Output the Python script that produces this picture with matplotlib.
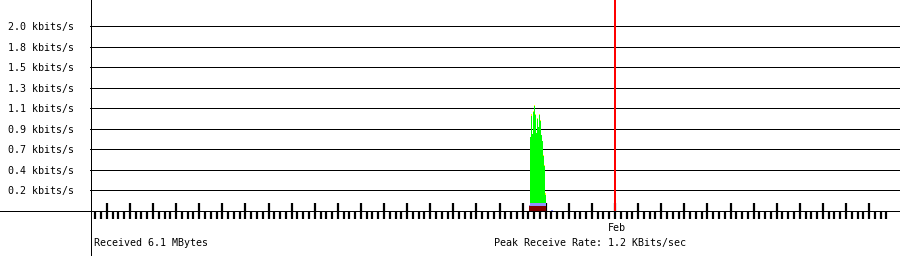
import numpy as np
import matplotlib
matplotlib.use('Agg')
import matplotlib.pyplot as plt
from matplotlib.lines import Line2D
import matplotlib.transforms as mtransforms

# hours relative to 1 Feb 00:00
hours = [-89, -88, -87, -86, -85, -84, -83, -82, -81, -80, -79, -78, -77, -76, -75, -74, -73, -72, -66]
# stacked layers, kbits/s
maroon = [0.05, 0.055, 0.055, 0.055, 0.055, 0.055, 0.055, 0.055, 0.055, 0.055, 0.055, 0.055, 0.055, 0.055, 0.055, 0.055, 0.055, 0.0, 0.0]
violet = [0.01, 0.03, 0.03, 0.03, 0.03, 0.03, 0.03, 0.03, 0.03, 0.03, 0.03, 0.03, 0.03, 0.03, 0.03, 0.03, 0.03, 0.0, 0.012]
green = [0.0, 0.71, 0.935, 0.74, 0.97, 1.036, 0.94, 0.75, 0.9, 0.81, 0.94, 0.88, 0.73, 0.66, 0.5, 0.4, 0.09, 0.0, 0.0]
yellow = [0.0, 0.0, 0.018, 0.0, 0.01, 0.01, 0.013, 0.0, 0.015, 0.004, 0.013, 0.014, 0.0, 0.004, 0.014, 0.007, 0.018, 0.0, 0.0]

ytick_vals = [0.22 * k for k in range(1, 10)]
ytick_labels = ['0.2 kbits/s', '0.4 kbits/s', '0.7 kbits/s', '0.9 kbits/s', '1.1 kbits/s',
                '1.3 kbits/s', '1.5 kbits/s', '1.8 kbits/s', '2.0 kbits/s']
month_mark = 0  # 1 Feb
month_label = 'Feb'
received_text = 'Received 6.1 MBytes'
peak_text = 'Peak Receive Rate: 1.2 KBits/sec'

plt.rcParams['font.family'] = 'DejaVu Sans Mono'
plt.rcParams['font.size'] = 7.2

W, H = 900, 256
fig = plt.figure(figsize=(W / 100, H / 100), dpi=100)
ax = fig.add_axes([90 / W, 45 / H, 810 / W, 211 / H])

x = np.array(hours)
m = np.array(maroon)
v = np.array(violet)
g = np.array(green)
yl = np.array(yellow)
# stacked bars, one per hour (a bit wider so neighbours touch)
bw = 1.1
ax.bar(x, m, width=bw, align='edge', color='#800000', linewidth=0, antialiased=False)
ax.bar(x, v, width=bw, align='edge', bottom=m, color='#9090ff', linewidth=0, antialiased=False)
ax.bar(x, g, width=bw, align='edge', bottom=m + v, color='#00ff00', linewidth=0, antialiased=False)
ax.bar(x, yl, width=bw, align='edge', bottom=m + v + g, color='#ffff00', linewidth=0, antialiased=False)

ax.axvline(month_mark, color='#ff0000', lw=1.44, zorder=2, antialiased=False)

ax.set_xlim(-545.5, 296.1)
ax.set_ylim(0, 2.258)

ax.set_yticks(ytick_vals)
ax.set_yticklabels(ytick_labels)
ax.tick_params(axis='y', length=0, pad=11.5)
ax.grid(True, axis='y', color='black', lw=0.72, antialiased=False)
ax.set_axisbelow(True)

ax.set_xticks(np.arange(-528, 283, 24))
ax.set_xticks([h for h in range(-540, 283, 6) if h % 24 != 0], minor=True)
ax.set_xticklabels([])
ax.tick_params(axis='x', which='major', direction='inout', length=11, width=1.6, color='black')
ax.tick_params(axis='x', which='minor', direction='out', length=5.5, width=1.6, color='black')

for s in ax.spines.values():
    s.set_visible(False)

# axis lines that run past the plot area
fig.add_artist(Line2D([0, 1], [45.5 / H, 45.5 / H], color='black', lw=0.72, antialiased=False))
fig.add_artist(Line2D([90.5 / W, 90.5 / W], [0, 1], color='black', lw=0.72, antialiased=False))

trans = mtransforms.blended_transform_factory(ax.transData, fig.transFigure)
ax.text(month_mark + 2, 1 - 228 / H, month_label, ha='center', va='center', transform=trans)
fig.text(94 / W, 1 - 243 / H, received_text, ha='left', va='center')
fig.text(494 / W, 1 - 243 / H, peak_text, ha='left', va='center')

fig.savefig('out.png', dpi=100)
